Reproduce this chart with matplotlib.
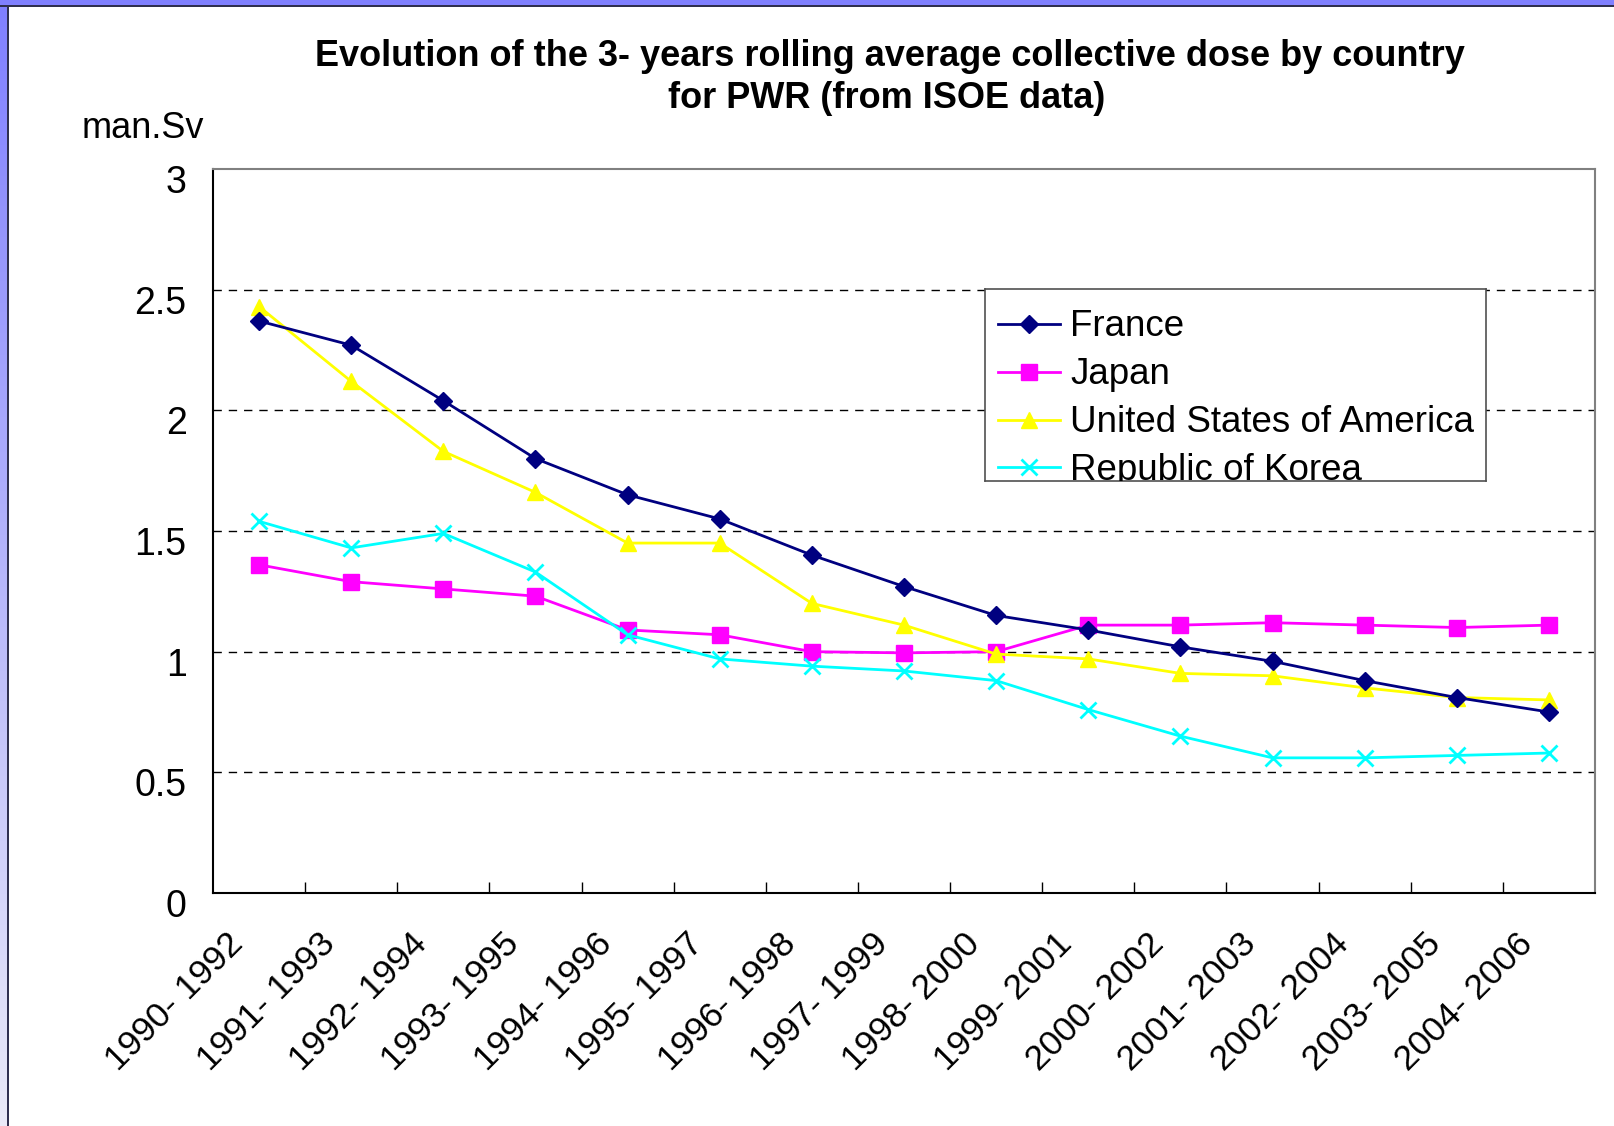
import numpy as np
import matplotlib.pyplot as plt
import matplotlib.transforms as mtransforms
from matplotlib.colors import LinearSegmentedColormap
from matplotlib.patches import Rectangle

plt.rcParams['font.family'] = ['Liberation Sans', 'DejaVu Sans']

# ---------------- DATA ----------------
periods = ["1990- 1992", "1991- 1993", "1992- 1994", "1993- 1995", "1994- 1996",
           "1995- 1997", "1996- 1998", "1997- 1999", "1998- 2000", "1999- 2001",
           "2000- 2002", "2001- 2003", "2002- 2004", "2003- 2005", "2004- 2006"]

france = [2.37, 2.27, 2.04, 1.80, 1.65, 1.55, 1.40, 1.27, 1.15, 1.09,
          1.02, 0.96, 0.88, 0.81, 0.75]
japan = [1.36, 1.29, 1.26, 1.23, 1.09, 1.07, 1.00, 0.995, 1.00, 1.11,
         1.11, 1.12, 1.11, 1.10, 1.11]
usa = [2.43, 2.12, 1.83, 1.66, 1.45, 1.45, 1.20, 1.11, 0.99, 0.97,
       0.91, 0.90, 0.85, 0.81, 0.80]
korea = [1.54, 1.43, 1.49, 1.33, 1.07, 0.97, 0.94, 0.92, 0.88, 0.76,
         0.65, 0.56, 0.56, 0.57, 0.58]

series = [
    ("France", france, dict(color='#000080', marker='D', ms=9)),
    ("Japan", japan, dict(color='#ff00ff', marker='s', ms=11)),
    ("United States of America", usa, dict(color='#ffff00', marker='^', ms=12)),
    ("Republic of Korea", korea, dict(color='#00ffff', marker='x', ms=11, mew=2)),
]

# ---------------- FIGURE ----------------
W, H = 1614, 1126
fig = plt.figure(figsize=(W / 100, H / 100), dpi=100)

# slide border: lavender band on top, gradient band on the left
fig.patches.append(Rectangle((0, 1 - 5 / H), 1, 5 / H, transform=fig.transFigure,
                             facecolor='#8080ff', edgecolor='none', zorder=0))
fig.patches.append(Rectangle((0, 1 - 6.5 / H), 1, 1.5 / H, transform=fig.transFigure,
                             facecolor='#303050', edgecolor='none', zorder=0))
axb = fig.add_axes([0, 0, 7 / W, 1 - 5 / H])
grad = np.linspace(0, 1, 256).reshape(-1, 1)
axb.imshow(grad, aspect='auto', origin='lower',
           cmap=LinearSegmentedColormap.from_list('b', ['#eaeaf8', '#8080ff']))
axb.axis('off')
fig.patches.append(Rectangle((7 / W, 0), 1.5 / W, 1 - 5 / H, transform=fig.transFigure,
                             facecolor='#303050', edgecolor='none', zorder=0))

# ---------------- MAIN AXES ----------------
ax = fig.add_axes([213 / W, 1 - 893 / H, (1595 - 213) / W, (893 - 169) / H])

x = np.arange(len(periods))
for i, (name, vals, st) in enumerate(series):
    ax.plot(x, vals, lw=2, label=name, zorder=4 if i == 0 else 3, **st)

ax.set_xlim(-0.5, len(periods) - 0.5)
ax.set_ylim(0, 3)

for v in [0.5, 1, 1.5, 2, 2.5]:
    ax.axhline(v, color='black', lw=1, ls=(0, (6, 5)), zorder=1)

ax.set_yticks([0, 0.5, 1, 1.5, 2, 2.5, 3])
ax.set_yticklabels(['0', '0.5', '1', '1.5', '2', '2.5', '3'], fontsize=27)
ax.tick_params(axis='y', direction='out', length=0, pad=19)
off = mtransforms.ScaledTranslation(0, -10 / 100, fig.dpi_scale_trans)
for lab in ax.get_yticklabels():
    lab.set_transform(lab.get_transform() + off)

# tick marks between categories, labels centred on categories
ax.set_xticks(np.arange(0.5, len(periods) - 0.5, 1))
ax.set_xticklabels([])
ax.tick_params(axis='x', direction='in', length=8, width=1)
ax.set_xticks(x, minor=True)
ax.set_xticklabels(periods, minor=True, rotation=45, ha='right', va='top',
                   rotation_mode='anchor', fontsize=25.5)
ax.tick_params(axis='x', which='minor', length=0, pad=16)
offx = mtransforms.ScaledTranslation(-33 / 100, -12 / 100, fig.dpi_scale_trans)
for lab in ax.get_xticklabels(minor=True):
    lab.set_transform(lab.get_transform() + offx)

for s in ['top', 'right']:
    ax.spines[s].set_color('#808080')
    ax.spines[s].set_linewidth(1.5)
for s in ['left', 'bottom']:
    ax.spines[s].set_color('black')
    ax.spines[s].set_linewidth(1.5)

fig.text(82 / W, 1 - 129 / H, 'man.Sv', fontsize=26, ha='left', va='center')

fig.text(890 / W, 1 - 56 / H,
         'Evolution of the 3- years rolling average collective dose by country',
         fontsize=26, weight='bold', ha='center', va='center')
fig.text(887 / W, 1 - 99 / H, 'for PWR (from ISOE data)',
         fontsize=26, weight='bold', ha='center', va='center')

# ---------------- LEGEND (fixed box, last entry cut like the original) ----------------
lx0, lx1, ly0, ly1 = 985, 1486, 289, 481
lax = fig.add_axes([lx0 / W, 1 - ly1 / H, (lx1 - lx0) / W, (ly1 - ly0) / H])
lax.set_xlim(0, lx1 - lx0)
lax.set_ylim(ly1 - ly0, 0)
lax.set_xticks([])
lax.set_yticks([])
for s in lax.spines.values():
    s.set_color('#505050')
    s.set_linewidth(1.2)
row_y = [38, 86, 134, 181]
for (name, vals, st), yy in zip(series, row_y):
    lax.plot([13, 75], [yy - 3, yy - 3], lw=2, color=st['color'], clip_on=True)
    lax.plot([44], [yy - 3], ls='none', clip_on=True, **st)
    lax.text(85, yy, name, fontsize=26.5, ha='left', va='center', clip_on=True)

fig.savefig('out.png', dpi=100)
